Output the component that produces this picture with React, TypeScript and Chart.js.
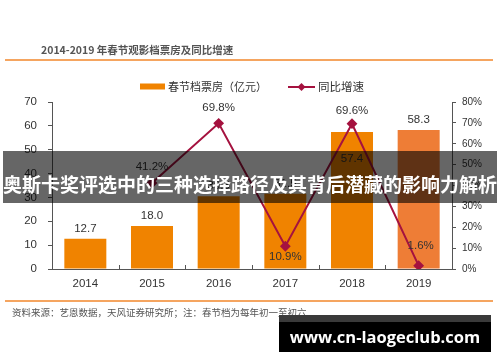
import React, { useEffect, useRef } from 'react';
import { Chart, registerables } from 'chart.js';

Chart.register(...registerables);

// ---- data ----
const years = ['2014', '2015', '2016', '2017', '2018', '2019'];
const boxOffice = [12.7, 18.0, 30.5, 31.5, 57.4, 58.3];
const growth: (number | null)[] = [null, 41.2, 69.8, 10.9, 69.6, 1.6];
const leftTickMax = 70;
const rightTickMax = 80;

const titleText = '2014-2019 年春节观影档票房及同比增速';
const barSeriesName = '春节档票房（亿元）';
const lineSeriesName = '同比增速';
const sourceText = '资料来源：艺恩数据，天风证券研究所；注：春节档为每年初一至初六';
const bannerText = '奥斯卡奖评选中的三种选择路径及其背后潜藏的影响力解析';
const watermarkText = 'www.cn-laogeclub.com';

// ---- styling ----
const barColors = ['#F08300', '#F08300', '#F08300', '#F08300', '#F08300', '#EE7D36'];
const lineColor = '#A5123F';
const barLabelPlacement = ['above', 'above', 'above', 'above', 'inside', 'above'];
const lineLabelOffsets = [0, -16, -15, 11, -13, -20];
const CJK = '"Noto Sans CJK SC", "Liberation Sans", sans-serif';
const LAT = '"Liberation Sans", Arial, sans-serif';

const valueLabels = {
  id: 'valueLabels',
  afterDatasetsDraw(chart: any) {
    const ctx = chart.ctx;
    const barMeta = chart.getDatasetMeta(0);
    const lineMeta = chart.getDatasetMeta(1);
    ctx.save();
    ctx.font = `11.5px ${LAT}`;
    ctx.fillStyle = '#333';
    ctx.textAlign = 'center';
    ctx.textBaseline = 'middle';
    barMeta.data.forEach((el: any, i: number) => {
      const inside = barLabelPlacement[i] === 'inside';
      const y = inside ? el.y + 27 : el.y - 10;
      ctx.fillText(boxOffice[i].toFixed(1), el.x, y);
    });
    lineMeta.data.forEach((el: any, i: number) => {
      const v = growth[i];
      if (v == null) return;
      ctx.fillText(v.toFixed(1) + '%', el.x + (i === 5 ? 2 : 0), el.y + lineLabelOffsets[i]);
    });
    ctx.restore();
  },
};

const extras = {
  id: 'extras',
  afterDraw(chart: any) {
    const ctx = chart.ctx;
    const area = chart.chartArea;
    ctx.save();
    // inward x ticks
    ctx.strokeStyle = '#555';
    ctx.lineWidth = 1;
    const n = years.length;
    const step = (area.right - area.left) / n;
    for (let i = 1; i < n; i++) {
      const x = Math.round(area.left + i * step) + 0.5;
      ctx.beginPath();
      ctx.moveTo(x, area.bottom - 4);
      ctx.lineTo(x, area.bottom);
      ctx.stroke();
    }
    // legend
    const ly = 87;
    ctx.fillStyle = '#F08300';
    ctx.fillRect(140, ly - 3.5, 25, 6);
    ctx.fillStyle = '#333';
    ctx.font = `11px ${CJK}`;
    ctx.textBaseline = 'middle';
    ctx.textAlign = 'left';
    ctx.fillText(barSeriesName, 168, ly);
    ctx.strokeStyle = lineColor;
    ctx.lineWidth = 2;
    ctx.beginPath();
    ctx.moveTo(288, ly);
    ctx.lineTo(315, ly);
    ctx.stroke();
    ctx.fillStyle = lineColor;
    ctx.beginPath();
    ctx.moveTo(301.5, ly - 4);
    ctx.lineTo(305.5, ly);
    ctx.lineTo(301.5, ly + 4);
    ctx.lineTo(297.5, ly);
    ctx.closePath();
    ctx.fill();
    ctx.fillStyle = '#333';
    ctx.font = `11.5px ${CJK}`;
    ctx.fillText(lineSeriesName, 318, ly);
    ctx.restore();
  },
};

export default function App() {
  const ref = useRef<HTMLCanvasElement>(null);

  useEffect(() => {
    if (!ref.current) return;
    const chart = new Chart(ref.current, {
      type: 'bar',
      data: {
        labels: years,
        datasets: [
          {
            type: 'bar',
            label: barSeriesName,
            data: boxOffice,
            backgroundColor: barColors,
            yAxisID: 'y',
            barPercentage: 0.63,
            categoryPercentage: 1,
            order: 1,
          },
          {
            type: 'line',
            label: lineSeriesName,
            data: growth,
            borderColor: lineColor,
            backgroundColor: lineColor,
            borderWidth: 2,
            pointStyle: 'rectRot',
            pointRadius: 4,
            pointHoverRadius: 4,
            yAxisID: 'y1',
            order: 0,
          } as any,
        ],
      },
      plugins: [valueLabels, extras],
      options: {
        responsive: false,
        animation: false,
        events: [],
        layout: { padding: { top: 102, bottom: 73, left: 0, right: 0 } },
        plugins: { legend: { display: false }, tooltip: { enabled: false }, title: { display: false } },
        scales: {
          x: {
            offset: true,
            grid: { display: true, drawOnChartArea: false, drawTicks: false, offset: true },
            border: { display: true, color: '#555', width: 1 },
            ticks: { color: '#333', font: { size: 11.5, family: LAT }, padding: 8 },
            afterFit: (s: any) => { s.height = 20; },
          },
          y: {
            position: 'left',
            min: 0,
            max: leftTickMax,
            ticks: { stepSize: 10, color: '#333', font: { size: 11.5, family: LAT }, padding: 11 },
            grid: { drawOnChartArea: false, drawTicks: true, tickLength: 4, color: '#555' },
            border: { display: true, color: '#555', width: 1 },
            afterFit: (s: any) => { s.width = 52; },
          },
          y1: {
            position: 'right',
            min: 0,
            max: rightTickMax,
            ticks: {
              stepSize: 10,
              color: '#333',
              font: { size: 10, family: LAT },
              padding: 6,
              callback: (v: any) => `${v}%`,
            },
            grid: { drawOnChartArea: false, drawTicks: true, tickLength: 4, color: '#555' },
            border: { display: true, color: '#555', width: 1 },
            afterFit: (s: any) => { s.width = 48; },
          },
        },
      } as any,
    });
    return () => chart.destroy();
  }, []);

  return (
    <div style={{ position: 'absolute', left: 0, top: 0, width: 500, height: 362, background: '#fff', overflow: 'hidden' }}>
      <canvas ref={ref} width={500} height={362} style={{ position: 'absolute', left: 0, top: 0, display: 'block' }} />
      <div style={{ position: 'absolute', left: 41, top: 44, font: `bold 10.5px ${CJK}`, lineHeight: '12px', color: '#555', whiteSpace: 'nowrap' }}>{titleText}</div>
      <div style={{ position: 'absolute', left: 5, top: 59, width: 488, height: 2, background: '#F5A560' }} />
      <div style={{ position: 'absolute', left: 5, top: 300, width: 488, height: 2, background: '#F5A560' }} />
      <div style={{ position: 'absolute', left: 12, top: 306, font: `9.5px ${CJK}`, lineHeight: '12px', color: '#555', whiteSpace: 'nowrap' }}>{sourceText}</div>
      <div style={{ position: 'absolute', left: 3, top: 151, width: 494, height: 52, background: 'rgba(0,0,0,0.6)' }}>
        <div style={{ position: 'absolute', left: 0, top: 21, width: 494, textAlign: 'center', font: `bold 19px ${CJK}`, lineHeight: '24px', color: '#fff', whiteSpace: 'nowrap' }}>{bannerText}</div>
      </div>
      <div style={{ position: 'absolute', left: 279, top: 315, width: 212, height: 37, background: '#000' }}>
        <div style={{ position: 'absolute', left: 0, top: 0, width: 212, height: 7, background: '#3a3a3a' }} />
        <div style={{ position: 'absolute', left: 0, top: 12, width: 212, textAlign: 'center', font: `bold 16.5px "Open Sans", ${LAT}`, lineHeight: '20px', color: '#fff', whiteSpace: 'nowrap' }}>{watermarkText}</div>
      </div>
    </div>
  );
}
